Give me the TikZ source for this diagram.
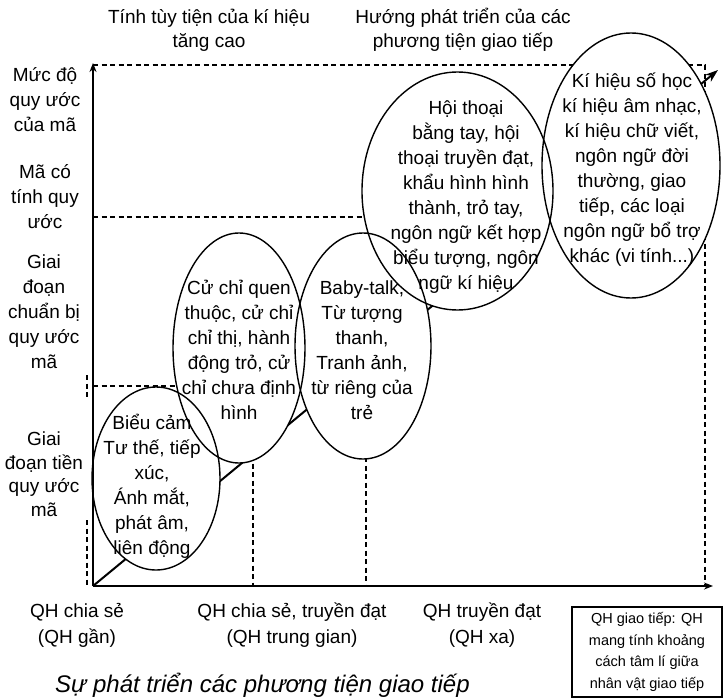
\documentclass[tikz,border=0pt]{standalone}
\usepackage{fontspec}
\setmainfont{Liberation Sans}
\usetikzlibrary{shapes.geometric,arrows.meta}
\newcommand\txtnorm{\fontsize{19}{25}\selectfont}
\newcommand\txtsmall{\fontsize{14.5}{21.5}\selectfont}
\newcommand\txtcap{\fontsize{24}{30}\selectfont\itshape}

\begin{document}
\begin{tikzpicture}[x=1pt,y=-1pt,
  axis/.style={line width=2.4pt,-{Stealth[length=9pt,width=7pt]}},
  growth/.style={line width=2pt,-{Stealth[length=13pt,width=9pt]}},
  guide/.style={line width=1.1pt,dash pattern=on 5pt off 3.5pt},
  bubble/.style={ellipse,draw,line width=1.4pt,inner sep=0pt},
  bubblefill/.style={ellipse,fill=white,inner sep=0pt},
  lbl/.style={align=center,font=\txtnorm,inner sep=0pt}]
\useasboundingbox (0,0) rectangle (728,699);

% axes and reference points
\coordinate (O) at (93,586);
\coordinate (ytop) at (93,63);
\coordinate (xend) at (713,586);
\coordinate (dtip) at (718,70);
\coordinate (cornerTL) at (93,65);
\coordinate (cornerTR) at (705,65);
\coordinate (cornerBR) at (705,586);
\coordinate (lv1) at (93,217);
\coordinate (lv1e) at (420,217);
\coordinate (lv2) at (93,386);
\coordinate (lv2e) at (230,386);
\coordinate (sideT) at (87,375);
\coordinate (sideM) at (87,398);
\coordinate (sideN) at (87,520);
\coordinate (sideB) at (87,586);
\coordinate (v1T) at (253,455);
\coordinate (v1B) at (253,586);
\coordinate (v2T) at (366,440);
\coordinate (v2B) at (366,586);

% dashed guide lines
\draw[guide] (cornerTL) -- (cornerTR) -- (cornerBR);
\draw[guide] (lv1) -- (lv1e);
\draw[guide] (lv2) -- (lv2e);
\draw[guide] (sideT) -- (sideM);
\draw[guide] (sideN) -- (sideB);
\draw[guide] (v1T) -- (v1B);
\draw[guide] (v2T) -- (v2B);

% growth direction
\draw[growth] (O) -- (dtip);

% white backgrounds of the stages
\node[bubblefill,minimum width=128pt,minimum height=183pt] (f1) at (156,478.5) {};
\node[bubblefill,minimum width=132pt,minimum height=230pt] (f2) at (239,348) {};
\node[bubblefill,minimum width=136pt,minimum height=226pt] (f3) at (363,346) {};
\node[bubblefill,minimum width=191pt,minimum height=238pt] (f4) at (457.5,191) {};
\node[bubblefill,minimum width=178pt,minimum height=265pt] (f5) at (631,165.5) {};

% outlines of the stages
\node[bubble,minimum width=128pt,minimum height=183pt] (e1) at (156,478.5) {};
\node[bubble,minimum width=132pt,minimum height=230pt] (e2) at (239,348) {};
\node[bubble,minimum width=136pt,minimum height=226pt] (e3) at (363,346) {};
\node[bubble,minimum width=191pt,minimum height=238pt] (e4) at (457.5,191) {};
\node[bubble,minimum width=178pt,minimum height=265pt] (e5) at (631,165.5) {};

% axes on top
\draw[axis] (O) -- (ytop);
\draw[axis] (O) -- (xend);

% stage contents
\node[lbl] (t1) at (152,486) {Biểu cảm\\Tư thế, tiếp\\xúc,\\Ánh mắt,\\phát âm,\\liên động};
\node[lbl] (t2) at (239,350) {Cử chỉ quen\\thuộc, cử chỉ\\chỉ thị, hành\\động trỏ, cử\\chỉ chưa định\\hình};
\node[lbl] (t3) at (362,350) {Baby-talk,\\Từ tượng\\thanh,\\Tranh ảnh,\\từ riêng của\\trẻ};
\node[lbl] (t4) at (466,197) {Hội thoại\\bằng tay, hội\\thoại truyền đạt,\\khẩu hình hình\\thành, trỏ tay,\\ngôn ngữ kết hợp\\biểu tượng, ngôn\\ngữ kí hiệu};
\node[lbl] (t5) at (632,170) {Kí hiệu số học\\kí hiệu âm nhạc,\\kí hiệu chữ viết,\\ngôn ngữ đời\\thường, giao\\tiếp, các loại\\ngôn ngữ bổ trợ\\khác (vi tính...)};

% top headings
\node[lbl,font=\fontsize{19}{24}\selectfont] (h1) at (209,30) {Tính tùy tiện của kí hiệu\\tăng cao};
\node[lbl,font=\fontsize{19}{24}\selectfont] (h2) at (463,30) {Hướng phát triển của các\\phương tiện giao tiếp};

% vertical axis labels
\node[lbl] (y1) at (45,100) {Mức độ\\quy ước\\của mã};
\node[lbl] (y2) at (45,197) {Mã có\\tính quy\\ước};
\node[lbl] (y3) at (44,312) {Giai\\đoạn\\chuẩn bị\\quy ước\\mã};
\node[lbl,font=\fontsize{19}{23.5}\selectfont] (y4) at (44,474) {Giai\\đoạn tiền\\quy ước\\mã};

% horizontal axis labels
\node[lbl,font=\fontsize{19}{26}\selectfont] (x1) at (77,625) {QH chia sẻ\\(QH gần)};
\node[lbl,font=\fontsize{19}{26}\selectfont] (x2) at (292,625) {QH chia sẻ, truyền đạt\\(QH trung gian)};
\node[lbl,font=\fontsize{19}{26}\selectfont] (x3) at (482,625) {QH truyền đạt\\(QH xa)};

% note box
\node[draw,line width=1.3pt,minimum width=150pt,minimum height=90pt,
      align=center,font=\txtsmall,inner sep=0pt] (note) at (647,652)
      {QH giao tiếp: QH\\mang tính khoảng\\cách tâm lí giữa\\nhân vật giao tiếp};

% caption
\node[anchor=base west,inner sep=0pt,font=\txtcap] (cap) at (55,692)
      {Sự phát triển các phương tiện giao tiếp};
\end{tikzpicture}
\end{document}
